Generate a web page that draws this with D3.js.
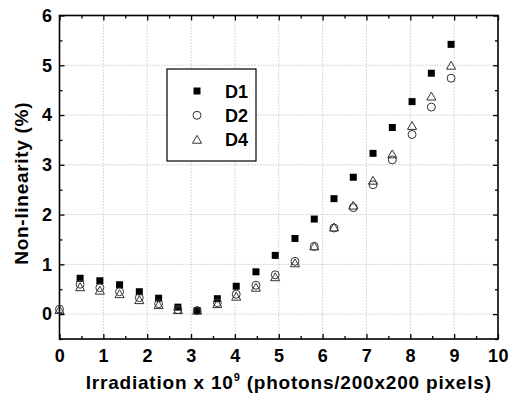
<!DOCTYPE html>
<html>
<head>
<meta charset="utf-8">
<script src="https://cdn.jsdelivr.net/npm/d3@7"></script>
<style>
  body { margin: 0; background: #fff; }
  text { font-family: "Liberation Sans", Arial, sans-serif; font-weight: bold; }
</style>
</head>
<body>
<div id="chart"></div>
<script>
// irradiation (x 10^9 photons / 200x200 pixels)
var irradiation = [0, 0.47, 0.92, 1.37, 1.82, 2.26, 2.7, 3.14, 3.6, 4.03, 4.48, 4.92, 5.37, 5.81, 6.26, 6.7, 7.15, 7.59, 8.04, 8.48, 8.93];
var d1 = [null, 0.72, 0.67, 0.59, 0.45, 0.32, 0.14, 0.07, 0.31, 0.56, 0.85, 1.18, 1.52, 1.91, 2.32, 2.75, 3.23, 3.75, 4.27, 4.84, 5.42];
var d2 = [0.1, 0.6, 0.53, 0.45, 0.33, 0.21, 0.09, 0.07, 0.23, 0.4, 0.58, 0.79, 1.06, 1.36, 1.73, 2.14, 2.6, 3.1, 3.61, 4.16, 4.74];
var d4 = [0.08, 0.54, 0.47, 0.4, 0.28, 0.18, 0.08, 0.07, 0.2, 0.35, 0.53, 0.74, 1.02, 1.36, 1.74, 2.18, 2.68, 3.21, 3.78, 4.37, 4.99];
var seriesNames = ["D1", "D2", "D4"];
var xTicks = [0, 1, 2, 3, 4, 5, 6, 7, 8, 9, 10];
var yTicks = [0, 1, 2, 3, 4, 5, 6];

var W = 510, H = 398;
var margin = {top: 15.5, right: 12, bottom: 59, left: 59.5};
var width = W - margin.left - margin.right,
    height = H - margin.top - margin.bottom;

var svg = d3.select("#chart").append("svg")
    .attr("width", W)
    .attr("height", H);
var g = svg.append("g")
    .attr("transform", "translate(" + margin.left + "," + margin.top + ")");

var x = d3.scaleLinear().domain([0, 10]).range([0, width]);
var y = d3.scaleLinear().domain([-0.5, 6]).range([height, 0]);

// grid
g.append("g").selectAll("line").data(xTicks.slice(1, -1)).enter().append("line")
    .attr("x1", d => x(d)).attr("x2", d => x(d))
    .attr("y1", 0).attr("y2", height)
    .attr("stroke", "#b0b0b0").attr("stroke-dasharray", "1,2");
g.append("g").selectAll("line").data(yTicks.slice(0, -1)).enter().append("line")
    .attr("y1", d => y(d)).attr("y2", d => y(d))
    .attr("x1", 0).attr("x2", width)
    .attr("stroke", "#b0b0b0").attr("stroke-dasharray", "1,2");

// inward ticks on all four sides
var xMinor = d3.range(0.5, 10, 1);
var yMinor = d3.range(-0.5, 6, 1);
function tickSet(axisFn, scale, vals, len) {
    return axisFn(scale).tickValues(vals).tickSize(-len).tickFormat("");
}
var bottom = g.append("g").attr("transform", "translate(0," + height + ")");
bottom.call(d3.axisBottom(x).tickValues(xTicks).tickSize(-5).tickPadding(10).tickFormat(d3.format("d")));
g.append("g").attr("transform", "translate(0," + height + ")").call(tickSet(d3.axisBottom, x, xMinor, 3));
g.append("g").call(tickSet(d3.axisTop, x, xTicks, 5));
g.append("g").call(tickSet(d3.axisTop, x, xMinor, 3));

var left = g.append("g");
left.call(d3.axisLeft(y).tickValues(yTicks).tickSize(-5).tickPadding(7).tickFormat(d3.format("d")));
g.append("g").call(tickSet(d3.axisLeft, y, yMinor, 3));
g.append("g").attr("transform", "translate(" + width + ",0)").call(tickSet(d3.axisRight, y, yTicks, 5));
g.append("g").attr("transform", "translate(" + width + ",0)").call(tickSet(d3.axisRight, y, yMinor, 3));

g.selectAll(".domain").remove();
g.selectAll(".tick line").attr("stroke", "#000").attr("stroke-width", 1.3);
g.selectAll(".tick text").attr("fill", "#000").style("font-size", "18px").style("letter-spacing", "0.5px");

// frame
g.append("rect").attr("width", width).attr("height", height)
    .attr("fill", "none").attr("stroke", "#000").attr("stroke-width", 1.6);

// series
var sq = d3.symbol().type(d3.symbolSquare).size(49);
var ci = d3.symbol().type(d3.symbolCircle).size(50);
var tri = d3.symbol().type(d3.symbolTriangle).size(36);

function pts(vals) {
    return irradiation.map((v, i) => ({x: v, y: vals[i]})).filter(d => d.y != null);
}

g.append("g").selectAll("path").data(pts(d1)).enter().append("path")
    .attr("d", sq)
    .attr("transform", d => "translate(" + x(d.x) + "," + y(d.y) + ")")
    .attr("fill", "#000");
g.append("g").selectAll("path").data(pts(d2)).enter().append("path")
    .attr("d", ci)
    .attr("transform", d => "translate(" + x(d.x) + "," + y(d.y) + ")")
    .attr("fill", "none").attr("stroke", "#333").attr("stroke-width", 1);
g.append("g").selectAll("path").data(pts(d4)).enter().append("path")
    .attr("d", tri)
    .attr("transform", d => "translate(" + x(d.x) + "," + (y(d.y) + 0.8) + ")")
    .attr("fill", "none").attr("stroke", "#333").attr("stroke-width", 1);

// legend
var lg = svg.append("g").attr("transform", "translate(167,69)");
lg.append("rect").attr("width", 89).attr("height", 92)
    .attr("fill", "#fff").attr("stroke", "#000").attr("stroke-width", 1.2);
var syms = [sq, ci, tri];
seriesNames.forEach(function(name, i) {
    var cy = 22 + i * 24.3;
    lg.append("path").attr("d", syms[i])
        .attr("transform", "translate(30," + (cy + (i == 2 ? 1 : 0)) + ")")
        .attr("fill", i == 0 ? "#000" : "none")
        .attr("stroke", i == 0 ? "none" : "#333");
    lg.append("text").attr("x", 58).attr("y", cy + 6.5)
        .style("font-size", "18px").attr("fill", "#000").text(name);
});

// axis titles
var xt = svg.append("text")
    .attr("x", margin.left + width / 2 + 10).attr("y", 389)
    .attr("text-anchor", "middle")
    .style("font-size", "19px").style("letter-spacing", "0.8px");
xt.append("tspan").text("Irradiation x 10");
xt.append("tspan").attr("dy", -8).style("font-size", "11px").text("9");
xt.append("tspan").attr("dy", 8).text(" (photons/200x200 pixels)");

svg.append("text")
    .attr("transform", "translate(28," + (margin.top + height / 2 + 6) + ") rotate(-90)")
    .attr("text-anchor", "middle")
    .style("font-size", "19px").style("letter-spacing", "0.7px")
    .text("Non-linearity (%)");
</script>
</body>
</html>
